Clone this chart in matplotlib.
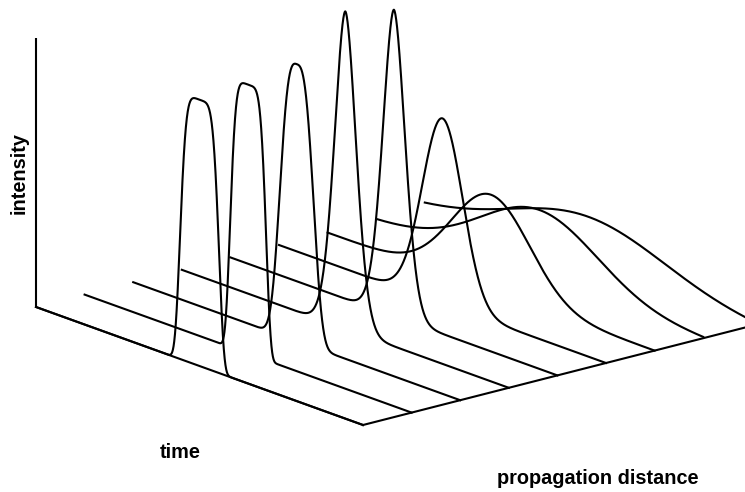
import numpy as np
import matplotlib
matplotlib.use("Agg")
import matplotlib.pyplot as plt

# ---- data ----
distance_index = [0, 1, 2, 3, 4, 5, 6, 7, 8]          # propagation-distance steps
peak_intensity = [0.99, 1.00, 1.03, 1.18, 1.14, 0.69, 0.36, 0.257, 0.186]
pulse_width = [0.627, 0.58, 0.596, 0.474, 0.49, 0.87, 1.68, 2.51, 3.33]
shape_order = [5, 5, 3, 1.8, 1.8, 2, 2, 2, 2]
pulse_center = [0.0, 0.0, 0.0, 0.0, 0.0, 0.0, 0.0, 0.0, 0.0]
time_range = (-5.0, 5.0)
axis_labels = {"intensity": "intensity", "time": "time", "distance": "propagation distance"}

# ---- oblique projection of (time, distance, intensity) onto the page ----
W, H = 745, 492
ORIGIN = np.array([36.0, 307.0])
TIME_VEC = np.array([327.0, 118.0])     # full time span
DIST_STEP = np.array([48.6, -12.4])     # one distance step
INT_SCALE = 269.0                       # intensity 1.0


def project(t, z, inten):
    t = np.asarray(t, dtype=float)
    frac = (t - time_range[0]) / (time_range[1] - time_range[0])
    x = ORIGIN[0] + frac * TIME_VEC[0] + np.asarray(z) * DIST_STEP[0]
    y = ORIGIN[1] + frac * TIME_VEC[1] + np.asarray(z) * DIST_STEP[1] - np.asarray(inten) * INT_SCALE
    return x, y


fig = plt.figure(figsize=(W / 100, H / 100), dpi=100)
ax = fig.add_axes([0, 0, 1, 1])
ax.set_xlim(0, W)
ax.set_ylim(H, 0)
ax.axis("off")

lw = 1.5
col = "black"

# frame: intensity axis, time axis, distance axis
x, y = project([time_range[0], time_range[0]], [0, 0], [0, 1.0])
ax.plot(x, y, color=col, lw=lw, solid_capstyle="butt")
x, y = project([time_range[0], time_range[1]], [0, 0], [0, 0])
ax.plot(x, y, color=col, lw=lw)
x, y = project([time_range[1], time_range[1]], [0, max(distance_index)], [0, 0])
ax.plot(x, y, color=col, lw=lw)

# traces
t = np.linspace(time_range[0], time_range[1], 3001)
for z, A, w, p, c in zip(distance_index, peak_intensity, pulse_width, shape_order, pulse_center):
    inten = A * np.exp(-np.abs((t - c) / w) ** p)
    x, y = project(t, np.full_like(t, z), inten)
    ax.plot(x, y, color=col, lw=lw, solid_joinstyle="round")

fam = ["Liberation Sans", "DejaVu Sans"]
ax.text(19.5, 173.5, axis_labels["intensity"], rotation=90, ha="center", va="center",
        fontsize=14.3, fontweight="bold", family=fam)
ax.text(180, 453, axis_labels["time"], ha="center", va="center",
        fontsize=14.3, fontweight="bold", family=fam)
ax.text(598, 478, axis_labels["distance"], ha="center", va="center",
        fontsize=14.3, fontweight="bold", family=fam)

fig.savefig("out.png", dpi=100)
